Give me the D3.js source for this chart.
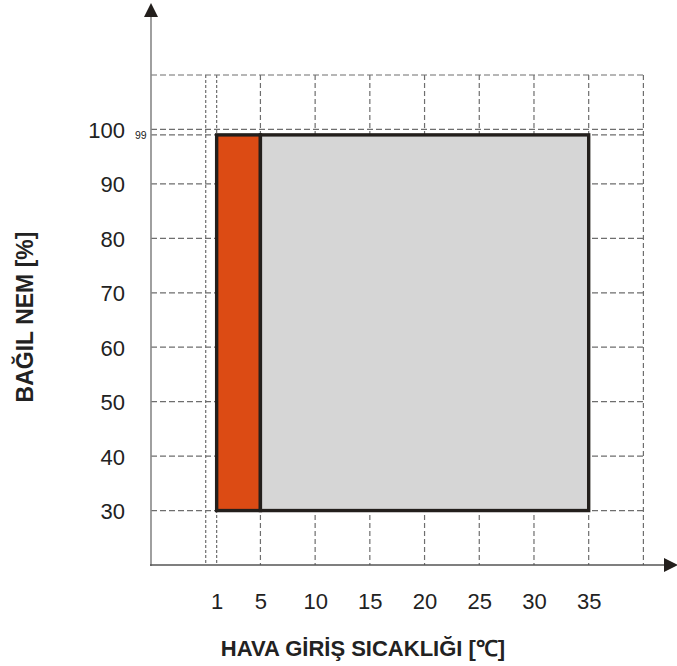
<!DOCTYPE html>
<html lang="tr">
<head>
<meta charset="UTF-8">
<title>Bağıl nem / hava giriş sıcaklığı</title>
<script src="https://d3js.org/d3.v7.min.js"></script>
<style>
    body { margin: 0; background: #fff; }
    svg { display: block; font-family: "Liberation Sans", Arial, sans-serif; }
    .grid line { stroke: #6e6e6e; stroke-width: 1.2; }
    .tick text { fill: #222; }
</style>
</head>
<body>
<svg width="677" height="666"></svg>
<script>
    // data
    const xTicks = [1, 5, 10, 15, 20, 25, 30, 35];
    const yTicks = [30, 40, 50, 60, 70, 80, 90, 100];
    const xGrid = [0, 1, 5, 10, 15, 20, 25, 30, 35, 40];
    const yGrid = [30, 40, 50, 60, 70, 80, 90, 99, 100, 110];
    const zones = [
        {x0: 1, x1: 5, y0: 30, y1: 99, color: "#dc4b14"},
        {x0: 5, x1: 35, y0: 30, y1: 99, color: "#d6d6d6"}
    ];
    const topMark = [99];

    const svg = d3.select("svg");

    const x = d3.scaleLinear().domain([-5, 40]).range([151, 643.4]);
    const y = d3.scaleLinear().domain([20, 110]).range([565, 75]);

    // grid
    const grid = svg.append("g").attr("class", "grid");
    grid.selectAll(".v")
        .data(xGrid)
        .join("line")
        .attr("class", "v")
        .attr("x1", d => x(d)).attr("x2", d => x(d))
        .attr("y1", y(110)).attr("y2", y(20))
        .attr("stroke-dasharray", d => d <= 1 ? "3,2" : "5,3");
    grid.selectAll(".h")
        .data(yGrid)
        .join("line")
        .attr("class", "h")
        .attr("x1", x(-5)).attr("x2", x(40))
        .attr("y1", d => y(d)).attr("y2", d => y(d))
        .attr("stroke-dasharray", "6,3");

    // zones
    svg.append("g")
        .selectAll("rect")
        .data(zones)
        .join("rect")
        .attr("x", d => x(d.x0))
        .attr("y", d => y(d.y1))
        .attr("width", d => x(d.x1) - x(d.x0))
        .attr("height", d => y(d.y0) - y(d.y1))
        .attr("fill", d => d.color)
        .attr("stroke", "#231f1c")
        .attr("stroke-width", 3.4);

    // axis lines with arrows
    svg.append("line")
        .attr("x1", x(-5)).attr("x2", x(-5))
        .attr("y1", 15).attr("y2", y(20) + 1)
        .attr("stroke", "#888").attr("stroke-width", 1.6);
    svg.append("line")
        .attr("x1", x(-5) - 1).attr("x2", 668)
        .attr("y1", y(20)).attr("y2", y(20))
        .attr("stroke", "#555").attr("stroke-width", 1.4);
    svg.append("path")
        .attr("d", `M${x(-5)},3 L${x(-5) - 7},17 L${x(-5) + 7},17 Z`)
        .attr("fill", "#231f1c");
    svg.append("path")
        .attr("d", `M678,${y(20)} L664,${y(20) - 7} L664,${y(20) + 7} Z`)
        .attr("fill", "#231f1c");

    // tick labels
    const xAxis = svg.append("g")
        .attr("transform", "translate(0,593)")
        .call(d3.axisBottom(x).tickValues(xTicks).tickSize(0).tickPadding(0));
    xAxis.select(".domain").remove();
    xAxis.selectAll("text").attr("font-size", 22);

    const yAxis = svg.append("g")
        .attr("transform", "translate(125,0)")
        .call(d3.axisLeft(y).tickValues(yTicks).tickSize(0).tickPadding(0));
    yAxis.select(".domain").remove();
    yAxis.selectAll("text").attr("font-size", 22).attr("dy", "0.36em");

    const smallAxis = svg.append("g")
        .attr("transform", "translate(135,0)")
        .call(d3.axisRight(y).tickValues(topMark).tickSize(0).tickPadding(0));
    smallAxis.select(".domain").remove();
    smallAxis.selectAll("text").attr("font-size", 10.5);

    // titles
    svg.append("text")
        .attr("x", 363).attr("y", 656)
        .attr("text-anchor", "middle")
        .attr("font-size", 22).attr("font-weight", "bold").attr("fill", "#222")
        .text("HAVA GİRİŞ SICAKLIĞI [℃]");
    svg.append("text")
        .attr("transform", "translate(33,317) rotate(-90)")
        .attr("text-anchor", "middle")
        .attr("font-size", 23).attr("font-weight", "bold").attr("fill", "#222")
        .text("BAĞIL NEM [%]");
</script>
</body>
</html>
